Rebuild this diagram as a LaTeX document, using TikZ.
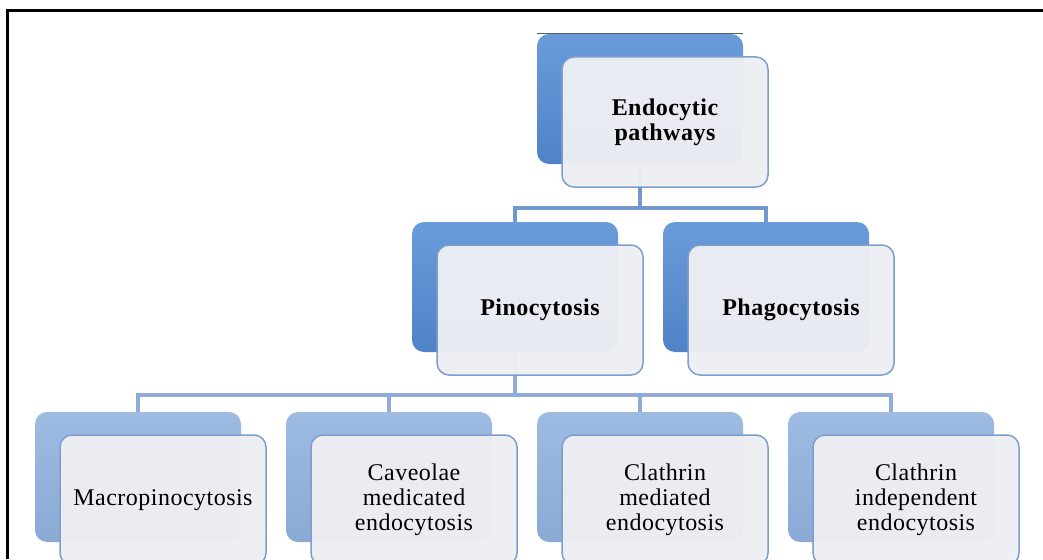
\documentclass[tikz,border=0pt]{standalone}
\usepackage{fontspec}
\setmainfont{Liberation Serif}[LetterSpace=2]
\usetikzlibrary{positioning,calc}

\definecolor{deepblue}{HTML}{6A9BDA}
\definecolor{deepbluedark}{HTML}{5082C8}
\definecolor{paleblue}{HTML}{9EBBE2}
\definecolor{palebluedark}{HTML}{8AA9D5}
\definecolor{frontfill}{HTML}{EEEFF3}
\definecolor{frontline}{HTML}{7D9ECC}
\definecolor{linkdeep}{HTML}{7396CC}
\definecolor{linkpale}{HTML}{8FABD6}

\tikzset{
  backbox/.style={rounded corners=12pt,minimum width=206pt,minimum height=130pt,inner sep=0pt},
  backdeep/.style={backbox,top color=deepblue,bottom color=deepbluedark},
  backpale/.style={backbox,top color=paleblue,bottom color=palebluedark},
  frontbox/.style={rounded corners=12pt,minimum width=206pt,minimum height=130pt,inner sep=0pt,
    draw=frontline,line width=1.5pt,fill=frontfill,fill opacity=0.96,text opacity=1,align=center},
  boldlabel/.style={font=\fontsize{24}{25}\selectfont\bfseries},
  plainlabel/.style={font=\fontsize{24}{25}\selectfont},
  link/.style={line width=3.5pt,line join=miter}
}

\begin{document}
\begin{tikzpicture}[x=1pt,y=-1pt]
\clip (0,0) rectangle (1043,559);
\fill[white] (0,0) rectangle (1043,559);

% junction points of the tree
\coordinate (j1) at (640,208);
\coordinate (j2) at (515,395);

% back boxes
\node[backdeep] (R) at (640,99) {};
\node[backdeep] (P) at (515,287) {};
\node[backdeep] (Q) at (766,287) {};
\foreach \n in {1,...,4}
  \node[backpale] (L\n) at (138+251*\n-251,477) {};

% connectors
\draw[link,linkdeep] (R.south) -- (j1);
\draw[link,linkdeep] (P.north) |- (j1) -| (Q.north);
\draw[link,linkpale] (P.south) -- (j2);
\draw[link,linkpale] (L1.north) |- (j2) -| (L4.north);
\draw[link,linkpale] (L2.north) -- (L2.north |- j2);
\draw[link,linkpale] (L3.north) -- (L3.north |- j2);

% front boxes
\node[frontbox,boldlabel] (Rf) at ([shift={(25,23)}]R.center) {Endocytic\\pathways};
\node[frontbox,boldlabel] (Pf) at ([shift={(25,23)}]P.center) {Pinocytosis};
\node[frontbox,boldlabel] (Qf) at ([shift={(25,23)}]Q.center) {Phagocytosis};
\foreach \t [count=\n] in
  {Macropinocytosis,{Caveolae\\medicated\\endocytosis},{Clathrin\\mediated\\endocytosis},{Clathrin\\independent\\endocytosis}}
  \node[frontbox,plainlabel] (Lf\n) at ([shift={(25,23)}]L\n.center) {\t};

% thin rule over the top box
\draw[gray!70!black,line width=0.8pt] (R.north west) -- (R.north east);

% frame
\draw[line width=3pt] (7,559) -- (7,11) -- (1043,11);
\end{tikzpicture}
\end{document}
